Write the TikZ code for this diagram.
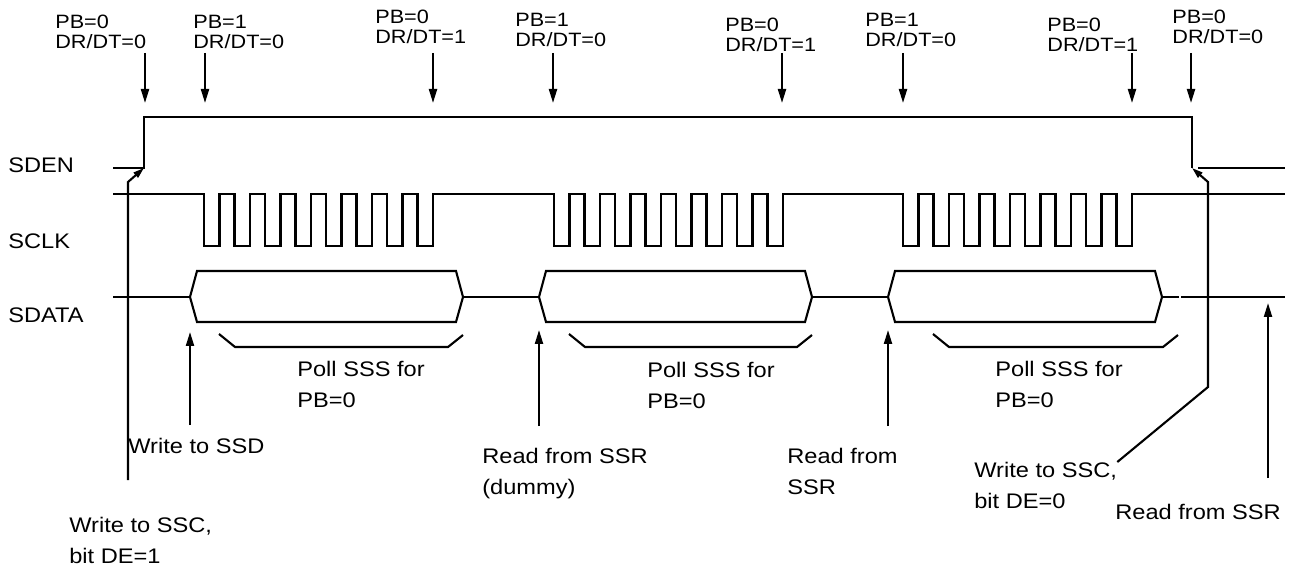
\documentclass[tikz,border=0pt]{standalone}
\usepackage{fontspec}
\setmainfont[FakeStretch=1.12]{Liberation Sans}
\usetikzlibrary{
    arrows.meta
}

\tikzset{
    wave/.style={line width=1.2pt, line join=miter},
    tick/.style={line width=1.2pt, -{Triangle[length=0.28cm,width=0.16cm]}},
    hook/.style={line width=1.2pt, -{Triangle[length=0.22cm,width=0.13cm]}},
    toplabel/.style={anchor=north west, inner sep=0pt, align=left,
        font=\fontsize{11pt}{11.2pt}\selectfont},
    siglabel/.style={anchor=north west, inner sep=0pt,
        font=\fontsize{12pt}{17.6pt}\selectfont},
    note/.style={anchor=north west, inner sep=0pt, align=left,
        font=\fontsize{12pt}{17.6pt}\selectfont}
}

\begin{document}
\begin{tikzpicture}[x=0.02cm, y=-0.02cm]
    \useasboundingbox (0,0) rectangle (1293,567);

    % signal names
    \node[siglabel] (sden) at (8,157) {SDEN};
    \node[siglabel] (sclk) at (8,233) {SCLK};
    \node[siglabel] (sdata) at (8,307) {SDATA};

    % status bits
    \node[toplabel] (st1) at (55,15) {PB=0\\DR/DT=0};
    \node[toplabel] (st2) at (193,15) {PB=1\\DR/DT=0};
    \node[toplabel] (st3) at (375,10) {PB=0\\DR/DT=1};
    \node[toplabel] (st4) at (515,13) {PB=1\\DR/DT=0};
    \node[toplabel] (st5) at (725,18) {PB=0\\DR/DT=1};
    \node[toplabel] (st6) at (865,13) {PB=1\\DR/DT=0};
    \node[toplabel] (st7) at (1047,18) {PB=0\\DR/DT=1};
    \node[toplabel] (st8) at (1172,10) {PB=0\\DR/DT=0};

    \foreach \x [count=\k] in {145,205,433,553,782,903,1132,1191} {
        \coordinate (dt\k) at (\x,53);
        \coordinate (dh\k) at (\x,103);
        \draw[tick] (dt\k) -- (dh\k);
    }

    % SDEN
    \draw[wave] (113,168) -- (144,168) -- (144,117) -- (1192,117) -- (1192,168);
    \draw[wave] (1198,168) -- (1285,168);

    % SCLK
    \draw[wave] (113,194)
        \foreach \s in {204,554,903} {
            \foreach \i in {0,...,7} {
                -- ({\s+30.5*\i},194) -- ++(0,52) -- ++(15.5,0) -- ++(0,-52)
            }
        } -- (1285,194);

    % SDATA
    \draw[wave] (113,297) -- (190,297) (463,297) -- (539,297)
        (812,297) -- (888,297) (1162,297) -- (1179,297) (1181,297) -- (1285,297);
    \foreach \a/\b in {190/463,539/812,888/1162}
        \draw[wave] (\a,297) -- ++(7,-26) -- (\b-7,271) -- (\b,297)
            -- (\b-7,322) -- (\a+7,322) -- cycle;
    \foreach \a/\b in {219/463,569/812,933/1178}
        \draw[wave] (\a,334) -- ++(16,13) -- (\b-15,347) -- (\b,335);

    % notes
    \node[note] (poll1) at (297,361) {Poll SSS for\\PB=0};
    \node[note] (poll2) at (647,362) {Poll SSS for\\PB=0};
    \node[note] (poll3) at (995,361) {Poll SSS for\\PB=0};
    \node[note] (wssd) at (128,438) {Write to SSD};
    \node[note] (wsc1) at (69,517) {Write to SSC,\\bit DE=1};
    \node[note] (rd1) at (482,448) {Read from SSR\\(dummy)};
    \node[note] (rd2) at (787,448) {Read from\\SSR};
    \node[note] (wsc2) at (974,462) {Write to SSC,\\bit DE=0};
    \node[note] (rd3) at (1115,504) {Read from SSR};

    \foreach \x/\lo/\hi [count=\k] in {190/425/332,539/426/330,888/426/330,1268/478/303} {
        \coordinate (ut\k) at (\x,\lo);
        \coordinate (uh\k) at (\x,\hi);
        \draw[tick] (ut\k) -- (uh\k);
    }

    % enable edges
    \coordinate (en1) at (144,168);
    \coordinate (en2) at (1192,168);
    \coordinate (ssc1) at (128,480);
    \draw[hook] (ssc1) -- (128,182) -- (en1);
    \draw[hook] (wsc2.north east) -- (1208,387) -- (1208,182) -- (en2);
\end{tikzpicture}
\end{document}
